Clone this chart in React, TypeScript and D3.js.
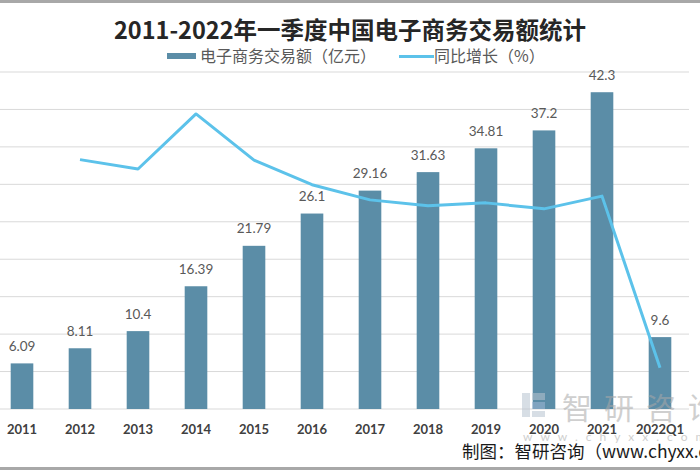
import React from "react";
import * as d3 from "d3";

const categories = ["2011", "2012", "2013", "2014", "2015", "2016", "2017", "2018", "2019", "2020", "2021", "2022Q1"];
const tradeValues = [6.09, 8.11, 10.4, 16.39, 21.79, 26.1, 29.16, 31.63, 34.81, 37.2, 42.3, 9.6];
const growthValues: (number | null)[] = [null, 33.2, 28.2, 57.6, 32.9, 19.8, 11.7, 8.5, 10.1, 6.9, 13.7, -78];
const leftTicks = [0, 5, 10, 15, 20, 25, 30, 35, 40, 45];

const W = 700;
const H = 470;
const BAR = "#5b8da7";
const LINE = "#5cc2ea";
const GRID = "#d9d9d9";
const LABEL = "#595959";
const NUM_FONT = "Lato, 'Open Sans', sans-serif";
const CJK_FONT = "'Noto Sans CJK SC', 'Noto Sans', sans-serif";

export default function App() {
  const x = d3.scaleBand<string>().domain(categories).range([-7, 689]).paddingInner(0.61).paddingOuter(0.305);
  const y = d3.scaleLinear().domain([0, 45]).range([409, 72]);
  const y2 = d3.scaleLinear().domain([-100, 80]).range([409, 72]);
  const cx = (c: string) => (x(c) as number) + x.bandwidth() / 2;

  const pts = categories
    .map((c, i) => ({ c, v: growthValues[i] }))
    .filter((d) => d.v !== null) as { c: string; v: number }[];
  const line = d3
    .line<{ c: string; v: number }>()
    .x((d) => cx(d.c))
    .y((d) => y2(d.v));

  return (
    <svg width={W} height={H} style={{ position: "absolute", left: 0, top: 0, background: "#fff" }}>
      <rect x={0} y={0} width={W} height={H} fill="#fff" />
      <rect x={0} y={0} width={W} height={3} fill="#a8a8a8" />
      <rect x={0} y={467} width={W} height={3} fill="#a8a8a8" />

      {/* title */}
      <text x={350} y={39} textAnchor="middle" fontFamily={CJK_FONT} fontWeight="bold" fontSize={23.5} fill="#262626">
        2011-2022年一季度中国电子商务交易额统计
      </text>

      {/* legend */}
      <rect x={167} y={53} width={29} height={6} fill={BAR} />
      <text x={200} y={62} fontFamily={CJK_FONT} fontSize={16} fill={LABEL}>
        电子商务交易额（亿元）
      </text>
      <line x1={399} x2={434} y1={56.5} y2={56.5} stroke={LINE} strokeWidth={3} />
      <text x={434} y={62} fontFamily={CJK_FONT} fontSize={16} fill={LABEL}>
        同比增长（%）
      </text>

      {/* gridlines */}
      {leftTicks.map((t) => (
        <line key={t} x1={0} x2={689} y1={y(t)} y2={y(t)} stroke={GRID} strokeWidth={1} />
      ))}

      {/* bars */}
      {categories.map((c, i) => (
        <rect key={c} x={x(c)} y={y(tradeValues[i])} width={x.bandwidth()} height={y(0) - y(tradeValues[i])} fill={BAR} />
      ))}

      {/* line */}
      <path d={line(pts) || ""} fill="none" stroke={LINE} strokeWidth={3} strokeLinejoin="round" />

      {/* value labels */}
      {categories.map((c, i) => (
        <text key={c} x={cx(c)} y={y(tradeValues[i]) - 12.5} textAnchor="middle" fontFamily={NUM_FONT} fontSize={13.5} fill={LABEL}>
          {tradeValues[i]}
        </text>
      ))}

      {/* x axis labels */}
      {categories.map((c) => (
        <text key={c} x={cx(c)} y={434} textAnchor="middle" fontFamily={NUM_FONT} fontWeight="bold" fontSize={13} fill="#404040">
          {c}
        </text>
      ))}

      {/* watermark */}
      <g opacity={0.55}>
        <rect x={522} y={393} width={8} height={24} fill="#b8c4d0" />
        <rect x={532} y={393} width={13} height={7} fill="#b8c4d0" />
        <rect x={532} y={402} width={13} height={7} fill="#9fb8d6" />
        <rect x={532} y={411} width={13} height={6} fill="#b8c4d0" />
        <text x={562} y={419} fontFamily={CJK_FONT} fontSize={30} letterSpacing={12} fill="#a8a8a8">
          智研咨询
        </text>
        <text x={523} y={441} fontFamily={NUM_FONT} fontSize={12} letterSpacing={8} fill="#a8a8a8">
          www.chyxx.com
        </text>
      </g>

      {/* source */}
      <text x={462} y={458} fontFamily={CJK_FONT} fontSize={17.5} fill="#1a1a1a">
        制图：智研咨询（www.chyxx.com）
      </text>
    </svg>
  );
}
